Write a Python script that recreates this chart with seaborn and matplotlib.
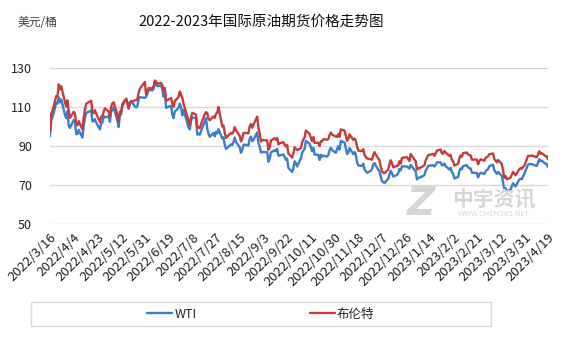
import numpy as np
import pandas as pd
import matplotlib
matplotlib.use("Agg")
import matplotlib.pyplot as plt
import matplotlib.dates as mdates
from matplotlib.patches import Rectangle
from matplotlib.lines import Line2D
import seaborn as sns

# Trading calendar: weekdays minus exchange holidays
start_date = "2022-03-16"
end_date = "2023-04-19"
holidays = ["2022-04-15", "2022-05-30", "2022-06-20", "2022-07-04", "2022-09-05",
            "2022-11-24", "2022-12-26", "2023-01-02", "2023-01-16", "2023-02-20",
            "2023-04-07"]

# Daily settlement prices, one row per trading week (USD/bbl)
wti = [
    95.04, 102.98, 104.70,
    112.12, 111.76, 114.93, 112.34, 113.90,
    105.96, 104.24, 107.82, 100.28, 99.27,
    103.28, 102.01, 96.23, 96.03, 98.26,
    94.29, 100.60, 104.25, 106.95,
    108.21, 102.56, 102.75, 103.79, 102.07,
    98.54, 101.70, 102.02, 105.36, 104.69,
    105.17, 102.41, 107.81, 108.26, 109.77,
    103.09, 99.76, 105.71, 106.13, 110.49,
    114.20, 112.40, 109.59, 112.21, 113.23,
    110.29, 109.77, 110.33, 114.09, 115.07,
    114.67, 115.26, 116.87, 118.87,
    118.50, 119.41, 122.11, 121.51, 120.67,
    120.93, 118.93, 115.31, 117.59, 109.56,
    110.65, 106.19, 104.27, 107.62,
    109.57, 111.76, 109.78, 105.76, 108.43,
    99.50, 98.53, 102.73, 104.79,
    104.09, 95.84, 96.30, 95.78, 97.59,
    102.60, 104.22, 98.88, 96.35, 94.70,
    96.70, 94.98, 97.26, 96.42, 98.62,
    93.89, 94.42, 90.66, 88.54, 89.01,
    90.76, 90.50, 91.93, 94.34, 92.09,
    89.41, 86.53, 87.99, 90.50, 90.77,
    90.23, 93.74, 94.89, 92.52, 93.06,
    97.01, 91.64, 89.55, 86.61, 86.87,
    86.88, 81.94, 83.54, 86.79,
    87.78, 87.31, 88.48, 85.10, 85.11,
    85.73, 84.45, 82.94, 83.49, 78.74,
    76.71, 78.50, 82.15, 81.23, 79.49,
    83.63, 86.52, 87.76, 88.45, 92.64,
    91.13, 89.35, 87.27, 89.11, 85.61,
    85.46, 82.82, 85.55, 84.51, 85.05,
    84.58, 85.32, 87.91, 89.08, 87.90,
    86.53, 88.37, 90.00, 88.17, 92.61,
    91.79, 88.91, 85.83, 86.47, 88.96,
    85.87, 86.92, 85.59, 81.64, 80.08,
    79.73, 80.95, 77.94, 76.28,
    77.24, 78.20, 80.55, 81.22, 79.98,
    76.93, 74.25, 72.01, 71.46, 71.02,
    73.17, 75.39, 77.28, 76.11, 74.29,
    75.19, 76.09, 78.29, 77.49, 79.56,
    79.53, 78.96, 78.40, 80.26,
    76.93, 72.84, 73.67, 73.77,
    74.63, 75.12, 77.41, 78.39, 79.86,
    80.18, 79.48, 80.33, 81.64,
    81.62, 80.13, 80.15, 81.01, 79.68,
    77.90, 78.87, 76.41, 75.88, 73.39,
    74.11, 77.14, 78.47, 78.06, 79.72,
    80.14, 79.06, 78.59, 78.49, 76.34,
    76.16, 73.95, 75.39, 76.32,
    75.68, 77.05, 77.69, 78.16, 79.68,
    80.46, 77.58, 76.66, 75.72, 76.68,
    74.80, 71.33, 67.61, 68.35, 66.74,
    67.64, 69.33, 70.90, 69.96, 69.26,
    72.81, 73.20, 72.97, 74.37, 75.67,
    80.42, 80.71, 80.61, 80.70,
    79.74, 81.53, 83.26, 82.16, 82.52,
    80.83, 80.86, 79.16,
]

brent = [
    98.02, 106.64, 107.93,
    115.62, 115.48, 121.60, 119.03, 120.65,
    112.48, 110.23, 113.45, 107.91, 104.39,
    107.53, 106.64, 101.07, 100.58, 102.78,
    98.48, 104.64, 108.78, 111.70,
    113.16, 107.25, 106.80, 108.33, 106.65,
    102.32, 104.99, 105.32, 107.59, 109.34,
    107.58, 104.97, 110.14, 111.90, 112.39,
    105.94, 102.46, 107.51, 107.45, 111.55,
    114.24, 111.93, 109.11, 112.04, 112.55,
    113.42, 113.56, 114.03, 117.40, 119.43,
    122.84, 116.29, 117.61, 119.72,
    119.51, 120.57, 123.58, 123.07, 122.01,
    122.27, 121.17, 118.51, 119.81, 113.12,
    114.65, 111.74, 110.05, 113.12,
    115.09, 117.98, 116.26, 114.81, 111.63,
    102.77, 100.69, 104.65, 107.02,
    106.10, 99.49, 99.57, 99.10, 101.16,
    106.27, 107.35, 106.92, 103.86, 103.20,
    105.15, 104.40, 106.62, 107.14, 110.01,
    100.03, 100.54, 96.78, 94.12, 94.92,
    96.65, 96.31, 97.40, 99.60, 98.15,
    95.10, 92.34, 93.65, 96.59, 96.72,
    96.48, 100.22, 101.22, 99.34, 100.99,
    105.09, 99.31, 96.49, 92.36, 93.02,
    92.83, 88.00, 89.15, 92.84,
    94.00, 93.17, 94.10, 90.84, 91.35,
    92.00, 90.62, 89.83, 90.46, 86.15,
    84.06, 86.27, 89.32, 88.49, 87.96,
    88.86, 91.80, 93.37, 94.42, 97.92,
    96.19, 94.29, 92.45, 94.57, 91.63,
    91.62, 90.03, 92.41, 92.38, 93.50,
    93.26, 93.52, 95.69, 96.96, 95.77,
    94.83, 94.65, 96.16, 94.67, 98.57,
    97.92, 95.36, 92.65, 93.67, 95.99,
    93.14, 93.86, 92.86, 89.78, 87.62,
    87.45, 88.36, 85.41, 83.63,
    83.19, 83.03, 85.43, 86.88, 85.57,
    82.68, 79.35, 77.17, 76.15, 76.10,
    77.99, 80.68, 82.70, 81.21, 79.04,
    79.80, 79.99, 82.20, 80.98, 83.92,
    84.33, 83.26, 82.26, 85.91,
    82.10, 77.84, 78.69, 78.57,
    79.65, 80.10, 82.67, 84.03, 85.28,
    85.92, 84.98, 86.16, 87.63,
    88.19, 86.13, 86.12, 87.47, 86.66,
    84.90, 85.46, 82.84, 82.17, 79.94,
    80.99, 83.69, 85.09, 84.50, 86.39,
    86.61, 85.58, 85.38, 85.14, 83.00,
    83.05, 80.60, 82.21, 83.16,
    82.45, 83.89, 84.31, 84.75, 85.83,
    86.18, 83.29, 82.66, 81.59, 82.78,
    80.77, 77.45, 73.69, 74.70, 72.97,
    73.79, 75.32, 76.69, 75.91, 74.99,
    78.12, 78.65, 78.28, 79.27, 79.77,
    84.93, 84.94, 84.99, 85.12,
    84.18, 85.61, 87.33, 86.09, 86.31,
    84.76, 84.77, 83.12,
]

series_names = ["WTI", "布伦特"]
colors = ["#3d7cc9", "#c43c3c"]
y_ticks = [50, 70, 90, 110, 130]
tick_step_days = 19

title = "2022-2023年国际原油期货价格走势图"
unit_label = "美元/桶"

dates = pd.bdate_range(start_date, end_date, freq="C", holidays=holidays)
assert len(dates) == len(wti) == len(brent), (len(dates), len(wti), len(brent))

df = pd.concat([
    pd.DataFrame({"date": dates, "price": wti, "series": series_names[0]}),
    pd.DataFrame({"date": dates, "price": brent, "series": series_names[1]}),
], ignore_index=True)

sns.set_theme(style="white")
plt.rcParams["font.family"] = ["Noto Sans CJK SC", "DejaVu Sans"]

W, H = 567, 340
fig = plt.figure(figsize=(W / 100, H / 100), dpi=100)
fig.patch.set_facecolor("white")

ax = fig.add_axes([50 / W, 1 - 224 / H, 498 / W, 156 / H])
sns.lineplot(data=df, x="date", y="price", hue="series", palette=colors,
             hue_order=series_names, linewidth=1.7, ax=ax, legend=False,
             zorder=3)

ax.set_ylim(50, 130)
ax.set_yticks(y_ticks)
ax.set_xlim(pd.Timestamp(start_date), pd.Timestamp(end_date))
xticks = pd.date_range(start_date, end_date, freq=f"{tick_step_days}D")
ax.set_xticks(xticks)
ax.set_xticklabels([f"{d.year}/{d.month}/{d.day}" for d in xticks],
                   rotation=45, ha="right", rotation_mode="anchor",
                   fontsize=9.5, color="#1f1f1f")
ax.tick_params(axis="x", length=0, pad=5)
ax.tick_params(axis="y", length=0, pad=13, labelsize=9, labelcolor="#1f1f1f")
ax.set_xlabel("")
ax.set_ylabel("")
ax.grid(axis="y", color="#d9d9d9", linewidth=1.0)
ax.grid(axis="x", visible=False)
for s in ax.spines.values():
    s.set_visible(False)

# Titles
fig.text(261 / W, 1 - 22 / H, title, ha="center", va="center",
         fontsize=10.5, color="#111111")
fig.text(18 / W, 1 - 22 / H, unit_label, ha="left", va="center",
         fontsize=8.5, color="#404040")

# Watermark
fig.text(421 / W, 1 - 204 / H, "Z", ha="center", va="center",
         fontsize=28, fontweight="bold", fontstyle="italic",
         color="#d6d6d6", family="DejaVu Sans", zorder=0)
fig.text(494 / W, 1 - 200 / H, "中宇资讯", ha="center", va="center",
         fontsize=15, fontweight="bold", color="#d6d6d6", zorder=0)
fig.text(494 / W, 1 - 214 / H, "WWW.CHEM365.NET", ha="center", va="center",
         fontsize=5, color="#d6d6d6", family="DejaVu Sans", zorder=0)

# Legend box
fig.patches.append(Rectangle((31 / W, 1 - 326 / H), 460 / W, 24 / H,
                             transform=fig.transFigure, fill=False,
                             edgecolor="#d9d9d9", linewidth=1.0))
handles = [Line2D([], [], color=c, linewidth=1.7) for c in colors]
fig.legend(handles, series_names, loc="center", ncol=2,
           bbox_to_anchor=(261 / W, 1 - 314 / H), frameon=False,
           fontsize=9, handlelength=2.0, handletextpad=0.2,
           columnspacing=9.0, labelcolor="#262626")

fig.savefig("out.png", dpi=100, facecolor="white")
